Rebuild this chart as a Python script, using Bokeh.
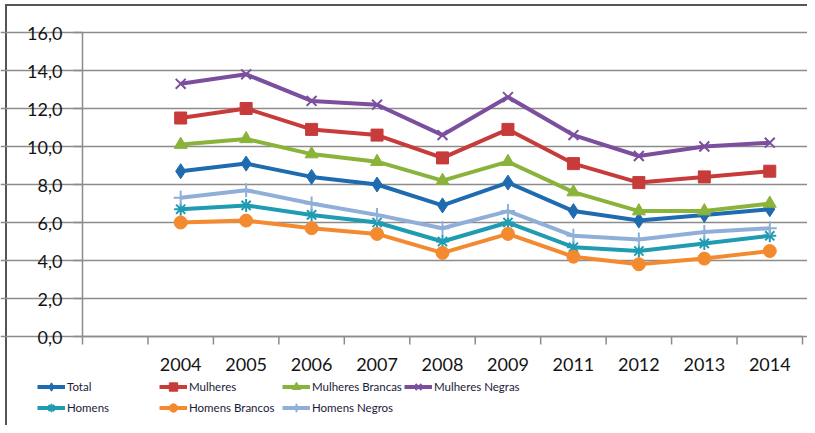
from bokeh.plotting import figure
from bokeh.models import Range1d, FixedTicker, Legend, LegendItem, Grid
from bokeh.core.properties import value
from bokeh.embed import file_html
from bokeh.resources import INLINE

categories = ["", "2004", "2005", "2006", "2007", "2008", "2009", "2011", "2012", "2013", "2014"]
years = categories[1:]

total = [8.7, 9.1, 8.4, 8.0, 6.9, 8.1, 6.6, 6.1, 6.4, 6.7]
mulheres = [11.5, 12.0, 10.9, 10.6, 9.4, 10.9, 9.1, 8.1, 8.4, 8.7]
mulheres_brancas = [10.1, 10.4, 9.6, 9.2, 8.2, 9.2, 7.6, 6.6, 6.6, 7.0]
mulheres_negras = [13.3, 13.8, 12.4, 12.2, 10.6, 12.6, 10.6, 9.5, 10.0, 10.2]
homens = [6.7, 6.9, 6.4, 6.0, 5.0, 6.0, 4.7, 4.5, 4.9, 5.3]
homens_brancos = [6.0, 6.1, 5.7, 5.4, 4.4, 5.4, 4.2, 3.8, 4.1, 4.5]
homens_negros = [7.3, 7.7, 7.0, 6.4, 5.7, 6.6, 5.3, 5.1, 5.5, 5.7]

y_ticks = [0, 2, 4, 6, 8, 10, 12, 14, 16]
y_labels = ["0,0", "2,0", "4,0", "6,0", "8,0", "10,0", "12,0", "14,0", "16,0"]

series = [
    ("Total", total, "#1f6bb0", "diamond", 15),
    ("Mulheres", mulheres, "#c73b3b", "square", 12),
    ("Mulheres Brancas", mulheres_brancas, "#8ab33a", "triangle", 13),
    ("Mulheres Negras", mulheres_negras, "#7b4f9e", "x", 14),
    ("Homens", homens, "#1f9cb1", "asterisk", 13),
    ("Homens Brancos", homens_brancos, "#f48a30", "circle", 13),
    ("Homens Negros", homens_negros, "#8fafd9", "cross", 14),
]
legend_columns = [["Total", "Homens"], ["Mulheres", "Homens Brancos"],
                  ["Mulheres Brancas", "Homens Negros"], ["Mulheres Negras"]]

FONT = "Lato"
AXIS_COLOR = "#8c8c8c"
TEXT_COLOR = "#141414"

# ---- layout (pixels) ----
W, H = 807, 425
PLOT_L, PLOT_R, PLOT_T, PLOT_B = 82, 802, 32, 336
n_cat = len(categories)
y_max = y_ticks[-1]
px_x = (PLOT_R - PLOT_L) / n_cat
px_y = (PLOT_B - PLOT_T) / y_max

x_range = Range1d(-PLOT_L / px_x, n_cat + (W - PLOT_R) / px_x)
y_range = Range1d(-(H - PLOT_B) / px_y, y_max + PLOT_T / px_y)

p = figure(width=W, height=H, output_backend="svg", toolbar_location=None,
           x_range=x_range, y_range=y_range,
           x_axis_location=None, y_axis_location=None,
           min_border=0, min_border_left=0, min_border_right=0,
           min_border_top=0, min_border_bottom=0)
p.outline_line_color = None
p.background_fill_color = None
p.border_fill_color = None
p.grid.visible = False
p.styles = {
    "background": "linear-gradient(#555555, #555555) 5px 4px / 2px 100% no-repeat, "
                  "linear-gradient(#555555, #555555) 5px 4px / 100% 2px no-repeat, white",
}

# horizontal gridlines
grid = Grid(dimension=1, ticker=FixedTicker(ticks=y_ticks), bounds=(0, n_cat),
            grid_line_color=AXIS_COLOR, grid_line_width=1.5)
p.add_layout(grid)

# axis lines
tick_len_x = 9 / px_x
tick_len_y = 8 / px_y
p.segment(x0=[0], y0=[0], x1=[0], y1=[y_max], line_color=AXIS_COLOR, line_width=1.5)
p.segment(x0=[0], y0=[0], x1=[n_cat], y1=[0], line_color=AXIS_COLOR, line_width=1.5)
# y ticks
p.segment(x0=[-tick_len_x] * len(y_ticks), y0=y_ticks, x1=[0] * len(y_ticks), y1=y_ticks,
          line_color=AXIS_COLOR, line_width=1.5)
# x ticks at category boundaries
bounds_x = list(range(n_cat + 1))
p.segment(x0=bounds_x, y0=[0] * len(bounds_x), x1=bounds_x, y1=[-tick_len_y] * len(bounds_x),
          line_color=AXIS_COLOR, line_width=1.5)

# tick labels
p.text(x=[-(20 / px_x)] * len(y_ticks), y=[t - 1 / px_y for t in y_ticks], text=y_labels,
       text_align="right", text_baseline="middle",
       text_font=value(FONT), text_font_size=value("18px"), text_color=TEXT_COLOR)
centers = [i + 0.5 for i in range(n_cat)]
p.text(x=centers, y=[-(363.5 - PLOT_B) / px_y] * n_cat, text=categories,
       text_align="center", text_baseline="middle",
       text_font=value(FONT), text_font_size=value("18px"), text_color=TEXT_COLOR)

xs = [categories.index(y) + 0.5 for y in years]

items = {}
for name, vals, color, marker, size in series:
    ln = p.line(xs, vals, line_color=color, line_width=4)
    if marker in ("x", "asterisk", "cross"):
        sc = p.scatter(xs, vals, marker=marker, size=size, line_color=color, line_width=2)
    else:
        sc = p.scatter(xs, vals, marker=marker, size=size, fill_color=color, line_color=color)
    items[name] = LegendItem(label=name, renderers=[ln, sc])

# legend: four columns placed at fixed pixel positions
col_x = [37, 159, 282, 404]
row_h = 21
legend_bottom = 418
for cx, names in zip(col_x, legend_columns):
    lg = Legend(items=[items[n] for n in names],
                location=(cx, (H - legend_bottom) + row_h * (2 - len(names))),
                label_text_font=FONT, label_text_font_size="11.5px",
                label_text_color="#1a1a3a",
                glyph_width=28, glyph_height=row_h, label_standoff=2, spacing=0,
                label_height=row_h, padding=0, margin=0,
                border_line_color=None, background_fill_alpha=0)
    p.add_layout(lg, "center")

open("out.html", "w").write(file_html(p, INLINE))
